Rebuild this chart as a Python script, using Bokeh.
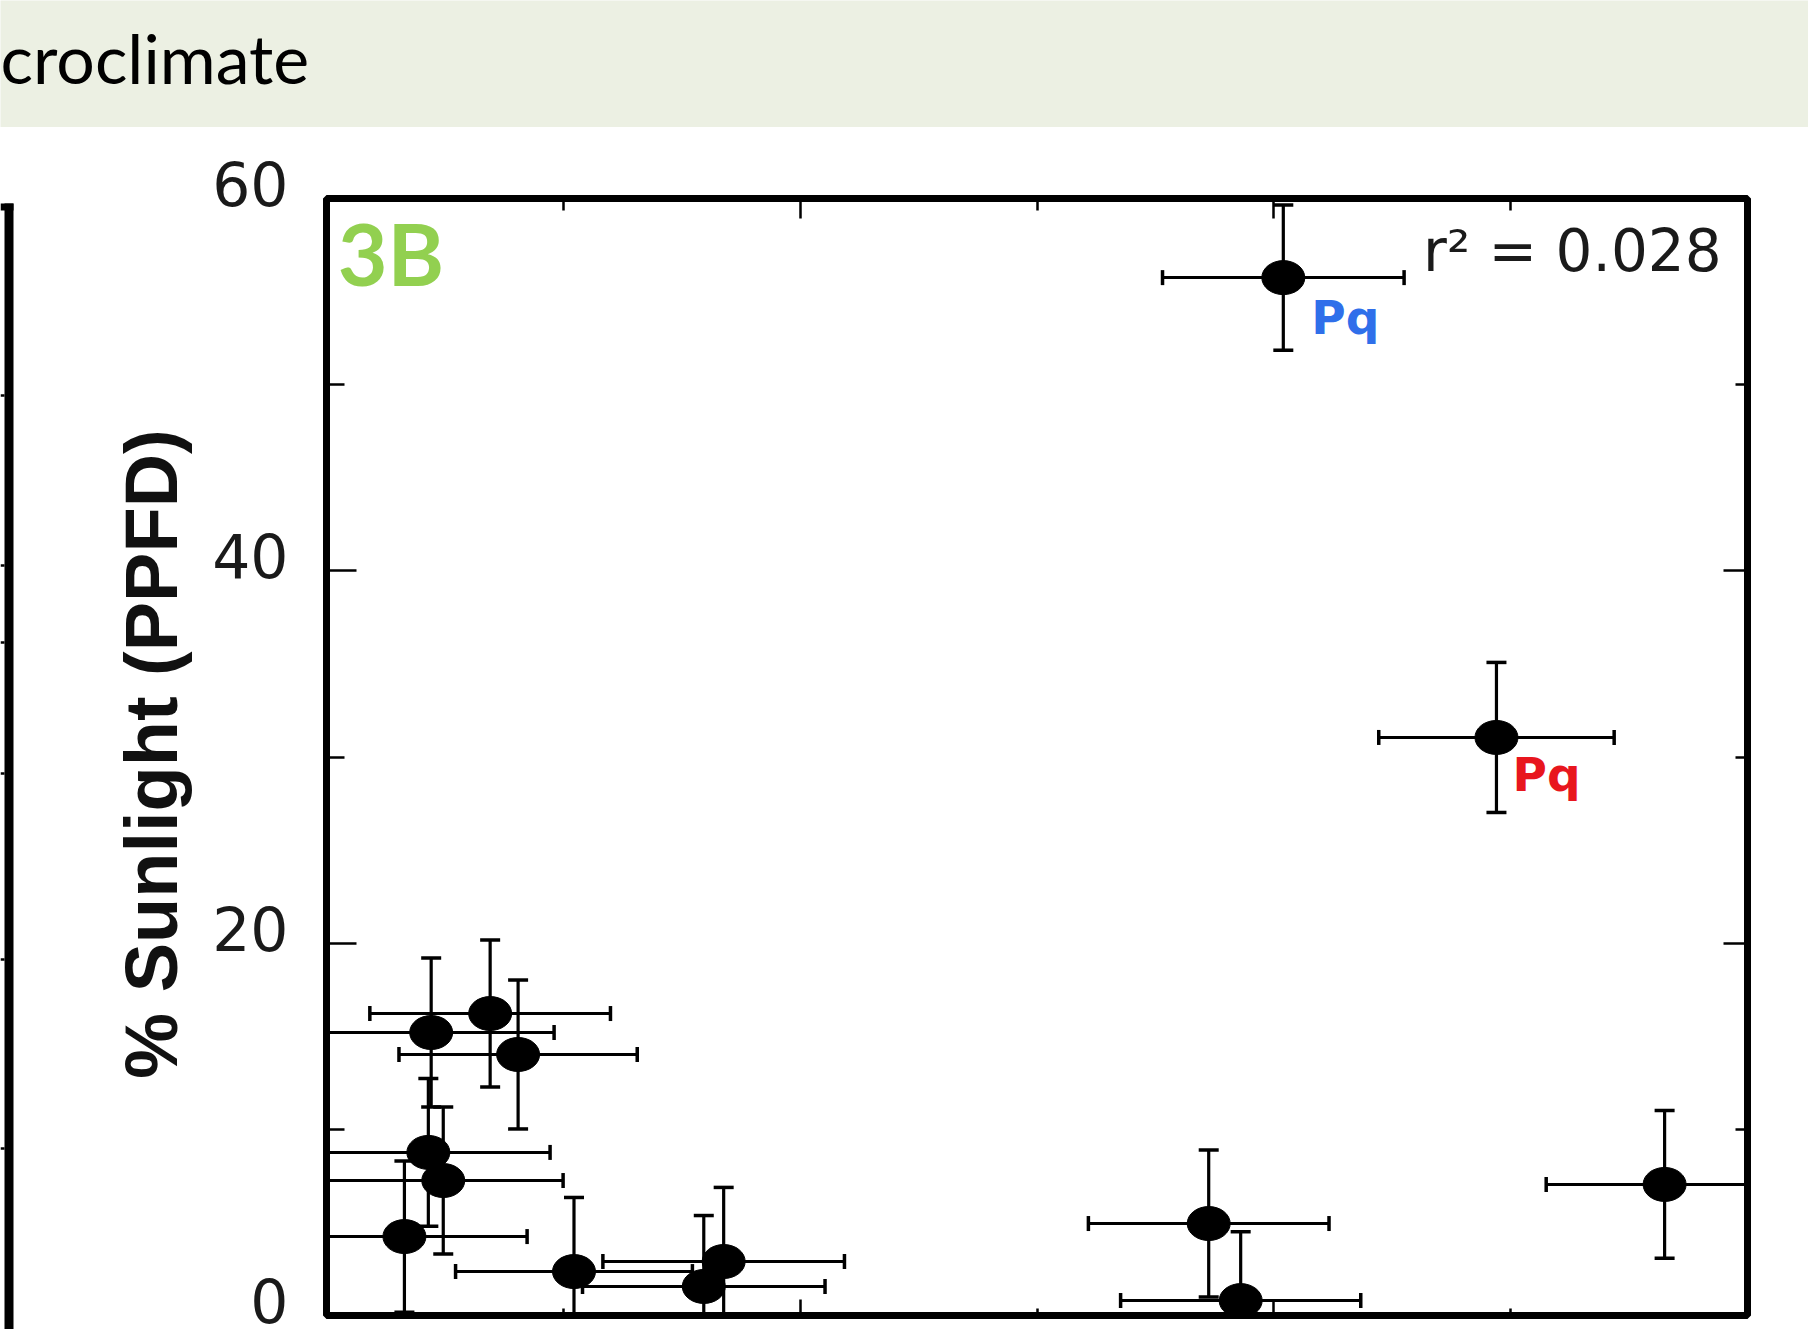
import math
from bokeh.plotting import figure
from bokeh.models import (Range1d, FixedTicker, LinearAxis, CustomJSTickFormatter,
                          Label, ColumnDataSource)
from bokeh.layouts import column, row
from bokeh.embed import file_html
from bokeh.resources import INLINE
from bokeh.core.properties import value

# ---------------- data ----------------
header_text = "croclimate"
panel_label = "3B"
r2_text = "r² = 0.028"
y_axis_title = "% Sunlight (PPFD)"
y_ticks_major = [0, 20, 40, 60]
y_ticks_minor = [10, 30, 50]
x_ticks_major = [0, 20, 40, 60]
x_ticks_minor = [10, 30, 50]

x_mean = [40.4, 49.4, 56.5, 37.25, 38.6, 4.42, 6.91, 8.09, 4.30, 4.93, 3.29, 10.45, 16.77, 15.93]
y_mean = [55.75, 31.05, 7.04, 4.94, 0.8, 15.2, 16.22, 14.02, 8.76, 7.25, 4.24, 2.36, 2.90, 1.56]
x_err = [5.1, 4.97, 5.0, 5.08, 5.07, 5.19, 5.08, 5.03, 5.14, 5.06, 5.18, 5.0, 5.1, 5.12]
y_err = [3.9, 4.03, 3.97, 3.95, 3.7, 4.0, 3.95, 4.0, 3.97, 3.95, 4.06, 3.98, 3.98, 3.81]

species_idx = [0, 1]
species_text = ["Pq", "Pq"]
species_color = ["#2F6FEA", "#E8161E"]

# edge of the neighbouring (cropped) panel, in page pixels
neighbor_edge_left = [4]
neighbor_edge_right = [13]
neighbor_edge_top = [203]
neighbor_top_bar_bottom = [210]
neighbor_ticks = [395, 565, 642, 773, 959, 1148]

# ---------------- styles ----------------
label_dx = [28, 16]
label_dy = [40, 37]
TXT = "#1a1a1a"
blank = CustomJSTickFormatter(code="return ''")

# ---------------- header bar ----------------
bar = figure(width=1808, height=127, x_range=Range1d(0, 1808), y_range=Range1d(0, 127),
             output_backend="svg", toolbar_location=None, min_border=0,
             x_axis_location=None, y_axis_location=None, frame_align=False)
bar.grid.visible = False
bar.background_fill_color = "#ECF0E3"
bar.border_fill_color = "#ECF0E3"
bar.outline_line_color = None
bar.add_layout(Label(x=0, y=70, text=header_text, text_font="Lato", text_font_size="68px",
                     text_color="black", text_baseline="alphabetic", text_align="left"))

# ---------------- neighbouring panel edge ----------------
sl = figure(width=14, height=1202, x_range=Range1d(0, 14), y_range=Range1d(1329, 127),
            output_backend="svg", toolbar_location=None, min_border=0,
            x_axis_location=None, y_axis_location=None, frame_align=False)
sl.grid.visible = False
sl.outline_line_color = None
sl.background_fill_color = "white"
sl.border_fill_color = "white"
sl.quad(left=neighbor_edge_left, right=neighbor_edge_right, top=neighbor_edge_top,
        bottom=[1329], fill_color="black", line_color=None)
sl.quad(left=[0], right=neighbor_edge_right, top=neighbor_edge_top,
        bottom=neighbor_top_bar_bottom, fill_color="black", line_color=None)
sl.segment(x0=[0] * len(neighbor_ticks), y0=neighbor_ticks,
           x1=neighbor_edge_left * len(neighbor_ticks), y1=neighbor_ticks,
           line_color="black", line_width=2.5)

# ---------------- y-axis labels strip (same data scale as the panel, labels sit a bit above ticks) ----
lf = figure(width=306, height=1202, x_range=Range1d(0, 1), y_range=Range1d(-1.558, 60.27),
            output_backend="svg", toolbar_location=None, x_axis_location=None,
            y_axis_location="left", frame_align=False,
            min_border_left=305, min_border_right=0, min_border_top=51, min_border_bottom=0)
lf.grid.visible = False
lf.outline_line_color = None
lf.background_fill_color = "white"
lf.border_fill_color = "white"
la = lf.yaxis[0]
la.ticker = FixedTicker(ticks=y_ticks_major, minor_ticks=[])
la.axis_line_color = None
la.major_tick_in = 0
la.major_tick_out = 0
la.minor_tick_in = 0
la.minor_tick_out = 0
la.major_label_text_font = "DejaVu Sans"
la.major_label_text_font_size = "60px"
la.major_label_text_color = TXT
la.major_label_standoff = 31
la.axis_label = y_axis_title
la.axis_label_text_font = "Liberation Sans"
la.axis_label_text_font_size = "74px"
la.axis_label_text_font_style = "bold"
la.axis_label_text_color = "#111111"
la.axis_label_standoff = 16

# ---------------- main panel ----------------
p = figure(width=1488, height=1202, x_range=Range1d(0, 60), y_range=Range1d(0, 60),
           output_backend="svg", toolbar_location=None, x_axis_location=None,
           y_axis_location="left", frame_align=False,
           min_border_left=6, min_border_right=61, min_border_top=71, min_border_bottom=14)
p.grid.visible = False
p.outline_line_color = "black"
p.outline_line_width = 7
p.background_fill_color = "white"
p.border_fill_color = "white"

yt = FixedTicker(ticks=y_ticks_major, minor_ticks=y_ticks_minor)
xt = FixedTicker(ticks=x_ticks_major, minor_ticks=x_ticks_minor)

ya = p.yaxis[0]
ya.ticker = yt
ya.formatter = blank
ya.axis_line_color = None
ya.major_tick_in = 30
ya.major_tick_out = 0
ya.minor_tick_in = 18
ya.minor_tick_out = 0
ya.major_tick_line_width = 2.5
ya.minor_tick_line_width = 2.5
ya.major_label_text_font_size = "1px"
ya.major_label_standoff = 0


def tick_axis(ticker, tin, tmin):
    return LinearAxis(ticker=ticker, formatter=blank, axis_line_color=None,
                      major_tick_in=tin, major_tick_out=0, minor_tick_in=tmin, minor_tick_out=0,
                      major_tick_line_width=2.5, minor_tick_line_width=2.5,
                      major_label_standoff=0, major_label_text_font_size="1px")


p.add_layout(tick_axis(yt, 24, 12), "right")
p.add_layout(tick_axis(xt, 20, 12), "above")
p.add_layout(tick_axis(xt, 16, 7), "below")

src = ColumnDataSource(dict(
    x=x_mean, y=y_mean,
    xl=[a - e for a, e in zip(x_mean, x_err)], xu=[a + e for a, e in zip(x_mean, x_err)],
    yl=[a - e for a, e in zip(y_mean, y_err)], yu=[a + e for a, e in zip(y_mean, y_err)],
))

# error bars
p.segment(x0="xl", y0="y", x1="xu", y1="y", source=src, line_color="black", line_width=3)
p.segment(x0="x", y0="yl", x1="x", y1="yu", source=src, line_color="black", line_width=3.2)
for col in ("xl", "xu"):
    p.scatter(x=col, y="y", source=src, marker="dash", size=15, angle=math.pi / 2,
              line_color="black", line_width=3.5)
for col in ("yl", "yu"):
    p.scatter(x="x", y=col, source=src, marker="dash", size=20,
              line_color="black", line_width=3.5)

# markers
p.ellipse(x="x", y="y", source=src, width=43, height=34, width_units="screen",
          height_units="screen", fill_color="black", line_color="black")

# species labels
lab = ColumnDataSource(dict(
    x=[x_mean[i] for i in species_idx], y=[y_mean[i] for i in species_idx],
    text=species_text, color=species_color, dx=label_dx, dy=label_dy))
p.text(x="x", y="y", text="text", source=lab, x_offset="dx", y_offset="dy",
       text_color="color", text_font=value("DejaVu Sans"), text_font_style="bold",
       text_font_size="47px", text_baseline="alphabetic", text_align="left")

# panel tag and r^2
p.add_layout(Label(x=0.47, y=57.08, text=panel_label, text_font="Lato", text_font_style="bold",
                   text_font_size="86px", text_color="#92D050", text_baseline="alphabetic"))
p.add_layout(Label(x=46.3, y=57.18, text=r2_text, text_font="DejaVu Sans",
                   text_font_size="58px", text_color=TXT, text_baseline="alphabetic"))

layout = column(bar, row(sl, lf, p, spacing=0), spacing=0)
open("out.html", "w").write(file_html(layout, INLINE))
